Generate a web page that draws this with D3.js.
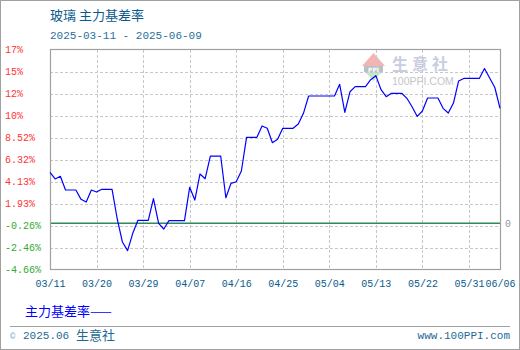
<!DOCTYPE html>
<html><head><meta charset="utf-8">
<script src="https://cdn.jsdelivr.net/npm/d3@7"></script>
<style>
html,body{margin:0;padding:0;background:#fff;}
svg{display:block;}
</style></head>
<body>
<svg id="c" width="520" height="350"></svg>
<script>
// ---- data ----
const title = "玻璃 主力基差率";
const subtitle = "2025-03-11 - 2025-06-09";
const seriesName = "主力基差率";
const startDate = "2025-03-11";   // one value per calendar day from here
const values = [
  5.08, 4.42, 4.69, 3.32, 3.32, 3.32, 2.39, 2.12, 3.32, 3.12,
  3.39, 3.39, 3.39, 0.43, -1.87, -2.73, -1.00, 0.30, 0.30, 0.30,
  2.46, 0.00, -0.57, 0.26, 0.26, 0.26, 0.26, 3.59, 2.32, 4.92,
  4.45, 6.71, 6.71, 6.71, 2.55, 3.99, 4.15, 5.22, 8.58, 8.58,
  8.58, 9.71, 9.48, 8.04, 8.38, 9.48, 9.48, 9.48, 9.91, 10.97,
  12.70, 12.70, 12.70, 12.70, 12.70, 12.70, 13.87, 11.07, 13.13, 13.63,
  13.63, 13.63, 14.33, 14.73, 13.33, 12.63, 12.97, 12.97, 12.97, 12.47,
  11.63, 10.66, 11.20, 12.50, 12.50, 12.50, 11.47, 11.00, 12.00, 14.20,
  14.45, 14.45, 14.45, 14.45, 15.44, 14.50, 13.55, 11.47
];
const yTicks = [-4.66, -2.46, -0.26, 1.93, 4.13, 6.32, 8.52, 10.71, 12.91, 15.10, 17.29];
const yTickLabels = ["-4.66%", "-2.46%", "-0.26%", "1.93%", "4.13%", "6.32%", "8.52%", "10%", "12%", "15%", "17%"];
const xTicks = ["2025-03-11","2025-03-20","2025-03-29","2025-04-07","2025-04-16","2025-04-25","2025-05-04","2025-05-13","2025-05-22","2025-05-31","2025-06-06"];
const xTickLabels = ["03/11","03/20","03/29","04/07","04/16","04/25","05/04","05/13","05/22","05/31","06/06"];

// ---- layout ----
const svg = d3.select("#c");
const W = 520, H = 350;
const L = 50, R = 500, T = 50, B = 270;
const parse = d3.utcParse("%Y-%m-%d");
const t0 = parse(startDate);
const data = values.map((v, i) => ({ date: d3.utcDay.offset(t0, i), v }));
const xDates = xTicks.map(parse);

const x = d3.scaleUtc().domain([xDates[0], xDates[xDates.length - 1]]).range([L, R]);
const y = d3.scaleLinear().domain([yTicks[0], yTicks[yTicks.length - 1]]).range([B, T]);

const mono = "'Liberation Mono','DejaVu Sans Mono',monospace";
const cjk = "'Noto Sans CJK SC','Noto Sans',sans-serif";

// outer border
svg.append("rect").attr("x", 0.5).attr("y", 0.5).attr("width", W - 1).attr("height", H - 1)
  .attr("fill", "#fff").attr("stroke", "#a0a0a0");

// title
svg.append("text").attr("x", 50).attr("y", 20).attr("fill", "#0b5a8c")
  .attr("font-family", cjk).attr("font-size", 13).text(title);
svg.append("text").attr("x", 50).attr("y", 39).attr("fill", "#2a6f9c")
  .attr("font-family", mono).attr("font-size", 11).text(subtitle);

// watermark
const wm = svg.append("g");
wm.append("path").attr("d", "M362,66 L373.5,53 L385,66 Z").attr("fill", "#f3b4b4");
wm.append("rect").attr("x", 364).attr("y", 66).attr("width", 19).attr("height", 6).attr("fill", "#b8c0c8");
wm.append("text").attr("x", 373.5).attr("y", 71.5).attr("text-anchor", "middle").attr("fill", "#fff")
  .attr("font-family", "'DejaVu Sans',sans-serif").attr("font-weight", "bold").attr("font-size", 6).text("PPI");
wm.append("path").attr("d", "M365,72 L382,72 L373.5,81 Z").attr("fill", "#c4e8c4");
wm.append("text").attr("x", 392).attr("y", 70).attr("fill", "#c9cde2")
  .attr("font-family", cjk).attr("font-weight", "bold").attr("font-size", 16).attr("letter-spacing", 4).text("生意社");
wm.append("text").attr("x", 392).attr("y", 85).attr("fill", "#c4c6cc")
  .attr("font-family", "'Liberation Sans',Arial,sans-serif").attr("font-size", 10.5).text("100PPI.COM");

// grid
const grid = svg.append("g").attr("stroke", "#c8c8c8").attr("stroke-dasharray", "3,2").attr("shape-rendering", "crispEdges");
grid.selectAll("line.h").data(yTicks.slice(1, -1)).join("line").attr("class", "h")
  .attr("x1", L).attr("x2", R).attr("y1", d => Math.round(y(d)) + 0.5).attr("y2", d => Math.round(y(d)) + 0.5);
grid.selectAll("line.v").data(xDates.slice(1, -1)).join("line").attr("class", "v")
  .attr("y1", T).attr("y2", B).attr("x1", d => Math.round(x(d)) + 0.5).attr("x2", d => Math.round(x(d)) + 0.5);

// zero line
svg.append("line").attr("x1", L).attr("x2", R).attr("y1", y(0)).attr("y2", y(0))
  .attr("stroke", "#2f8a55").attr("stroke-width", 1.4);
svg.append("text").attr("x", 505).attr("y", y(0) + 3.5).attr("fill", "#999")
  .attr("font-family", mono).attr("font-size", 10).text("0");

// frame
svg.append("rect").attr("x", L + 0.5).attr("y", T - 0.5).attr("width", R - L).attr("height", B - T)
  .attr("fill", "none").attr("stroke", "#a0a0a0").attr("stroke-width", 1.2);

// y axis labels
const yAxis = d3.axisLeft(y).tickValues(yTicks).tickSize(0).tickFormat((d, i) => yTickLabels[i]);
const gy = svg.append("g").attr("transform", "translate(5,0)").call(yAxis);
gy.select(".domain").remove();
gy.selectAll("text").attr("text-anchor", "start").attr("x", 0).attr("dy", "0.25em")
  .attr("font-family", mono).attr("font-size", 10)
  .attr("fill", (d) => d < 0 ? "#33aa33" : "#ff3333");

// x axis labels
const xAxis = d3.axisBottom(x).tickValues(xDates).tickSize(0).tickFormat((d, i) => xTickLabels[i]);
const gx = svg.append("g").attr("transform", `translate(0,${B})`).call(xAxis);
gx.select(".domain").remove();
gx.selectAll("text").attr("y", 13).attr("dy", "0.35em")
  .attr("font-family", mono).attr("font-size", 10).attr("fill", "#0b5a8c");

// line
const line = d3.line().x(d => x(d.date)).y(d => y(d.v));
svg.append("path").datum(data).attr("d", line).attr("fill", "none")
  .attr("stroke", "#0000ff").attr("stroke-width", 1.2).attr("stroke-linejoin", "round");

// legend
svg.append("text").attr("x", 25).attr("y", 316).attr("fill", "#0000ff")
  .attr("font-family", cjk).attr("font-size", 13).text(seriesName + "——");

// footer
svg.append("line").attr("x1", 10).attr("x2", 510).attr("y1", 326.5).attr("y2", 326.5).attr("stroke", "#a0a0a0");
svg.append("text").attr("x", 10).attr("y", 339).attr("fill", "#8aaccc")
  .attr("font-family", mono).attr("font-size", 9).text("©");
svg.append("text").attr("x", 23).attr("y", 339).attr("fill", "#1f6a94")
  .attr("font-family", mono).attr("font-size", 11).text("2025.06");
svg.append("text").attr("x", 76).attr("y", 339.5).attr("fill", "#1f6a94")
  .attr("font-family", cjk).attr("font-size", 13).text("生意社");
svg.append("text").attr("x", 510).attr("y", 339).attr("text-anchor", "end").attr("fill", "#1f6a94")
  .attr("font-family", mono).attr("font-size", 11).text("www.100PPI.com");
</script>
</body></html>
